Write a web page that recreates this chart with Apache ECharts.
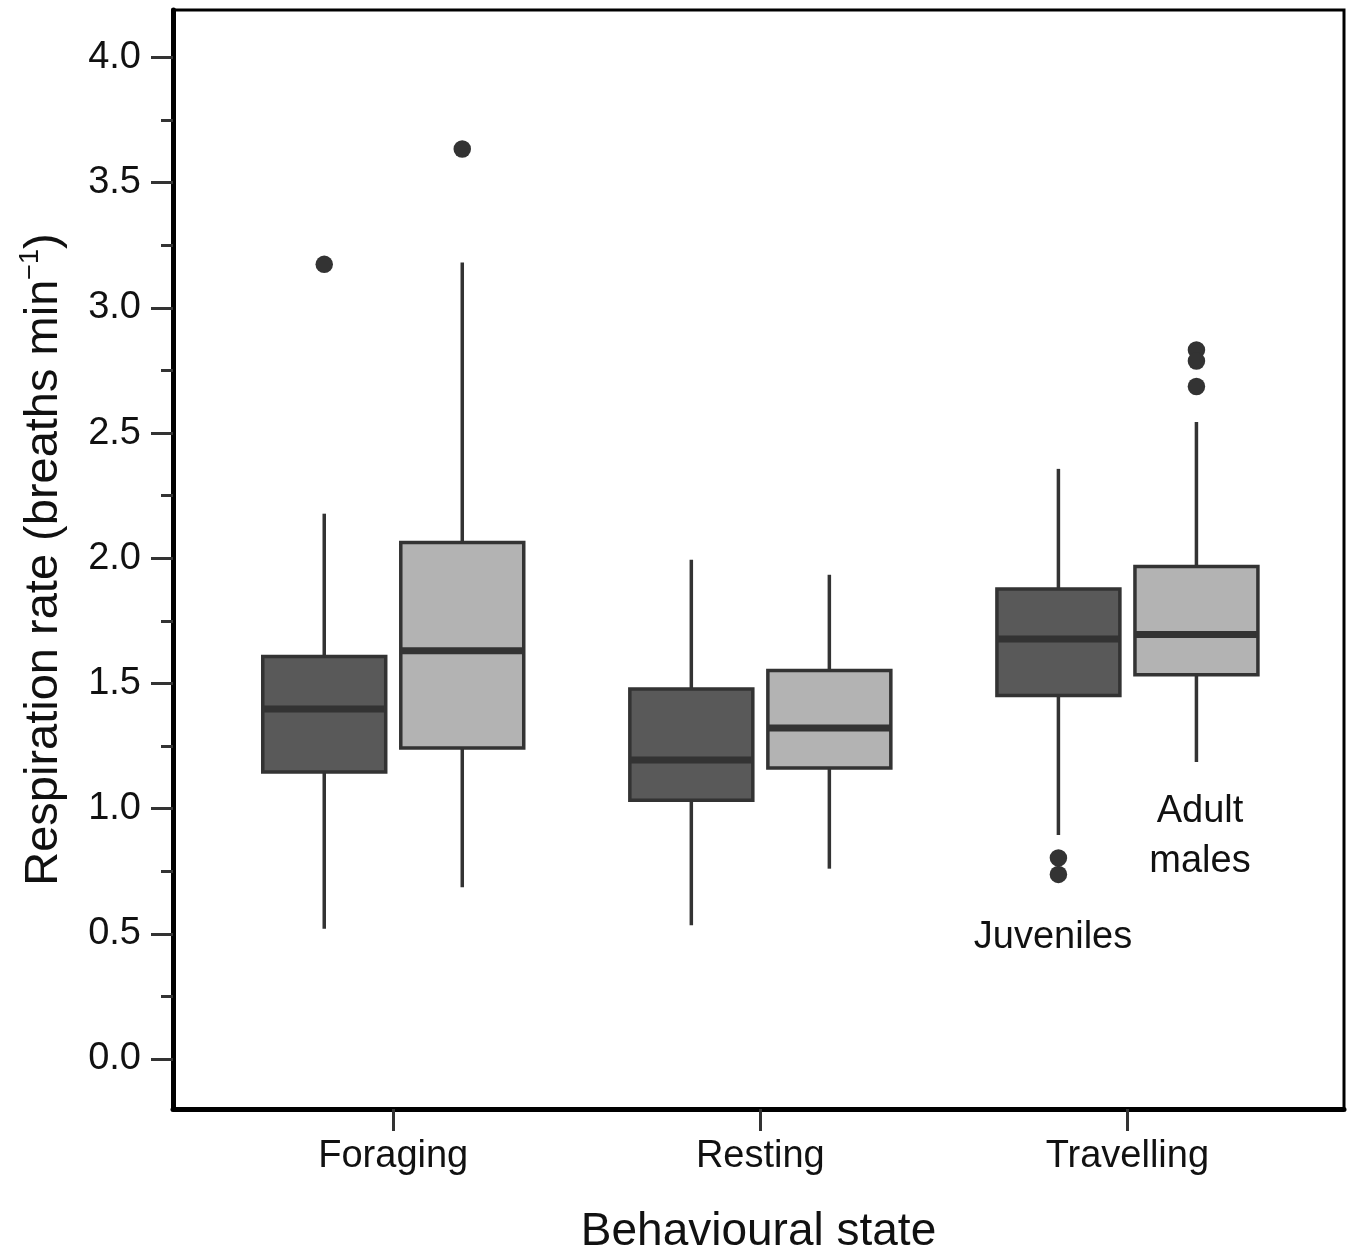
<!DOCTYPE html>
<html>
<head>
<meta charset="utf-8">
<script src="https://cdn.jsdelivr.net/npm/echarts@6/dist/echarts.min.js"></script>
<style>
html,body{margin:0;padding:0;background:#fff;}
#chart{width:1351px;height:1252px;}
</style>
</head>
<body>
<div id="chart"></div>
<script>
// ---------- data ----------
const categories = ['Foraging', 'Resting', 'Travelling'];
// [lower whisker, Q1, median, Q3, upper whisker]
const juvenileStats = [
  [0.52, 1.146, 1.398, 1.608, 2.178],
  [0.534, 1.033, 1.194, 1.478, 1.994],
  [0.895, 1.452, 1.677, 1.877, 2.357]
];
const adultStats = [
  [0.686, 1.242, 1.630, 2.063, 3.181],
  [0.760, 1.162, 1.322, 1.552, 1.934],
  [1.186, 1.535, 1.695, 1.967, 2.544]
];
const juvenileOutliers = [[3.174], [], [0.803, 0.737]];
const adultOutliers = [[3.635], [], [2.832, 2.788, 2.686]];
const yMajorTicks = [0, 0.5, 1.0, 1.5, 2.0, 2.5, 3.0, 3.5, 4.0];
const yMinorTicks = [0.25, 0.75, 1.25, 1.75, 2.25, 2.75, 3.25, 3.75];
const xTicks = [1, 2, 3];

// ---------- style ----------
const FONT = '"Liberation Sans", Arial, Helvetica, sans-serif';
const INK = '#333333';
const TEXT = '#111111';
const OFFSET = 0.188;
const BOX_HALF = 0.1675;

const chart = echarts.init(document.getElementById('chart'), null, {renderer: 'canvas'});

function boxData(stats) {
  return stats.map((s, i) => [i + 1].concat(s));
}
function outlierData(list, offset) {
  const out = [];
  list.forEach((vals, i) => vals.forEach(v => out.push([i + 1 + offset, v])));
  return out;
}
function makeRender(offset, fill) {
  return function (params, api) {
    const x = api.value(0) + offset;
    const lo = api.coord([x, api.value(1)]);
    const q1 = api.coord([x, api.value(2)]);
    const md = api.coord([x, api.value(3)]);
    const q3 = api.coord([x, api.value(4)]);
    const hi = api.coord([x, api.value(5)]);
    const half = api.size([BOX_HALF, 0])[0];
    const cx = q1[0];
    return {
      type: 'group',
      children: [
        {type: 'line', shape: {x1: cx, y1: hi[1], x2: cx, y2: q3[1]},
         style: {stroke: INK, lineWidth: 3.5}},
        {type: 'line', shape: {x1: cx, y1: q1[1], x2: cx, y2: lo[1]},
         style: {stroke: INK, lineWidth: 3.5}},
        {type: 'rect', shape: {x: cx - half, y: q3[1], width: 2 * half, height: q1[1] - q3[1]},
         style: {fill: fill, stroke: INK, lineWidth: 3.5}},
        {type: 'line', shape: {x1: cx - half, y1: md[1], x2: cx + half, y2: md[1]},
         style: {stroke: INK, lineWidth: 7}}
      ]
    };
  };
}

const option = {
  backgroundColor: '#ffffff',
  animation: false,
  grid: {
    left: 173, right: 7, top: 10, bottom: 143,
    show: true, borderColor: '#000', borderWidth: 3,
    outerBoundsMode: 'none'
  },
  xAxis: {
    type: 'value', min: 0.4, max: 3.59,
    axisLine: {show: true, onZero: false, lineStyle: {color: '#000', width: 5}},
    axisTick: {show: true, length: 22, customValues: xTicks, lineStyle: {color: INK, width: 3}},
    axisLabel: {customValues: xTicks, formatter: v => categories[Math.round(v) - 1],
      fontSize: 38, fontFamily: FONT, color: TEXT, margin: 29},
    splitLine: {show: false},
    name: 'Behavioural state', nameLocation: 'middle', nameGap: 100,
    nameTextStyle: {fontSize: 46, fontFamily: FONT, color: TEXT}
  },
  yAxis: [
    {
      type: 'value', min: -0.2, max: 4.19, position: 'left',
      axisLine: {show: true, lineStyle: {color: '#000', width: 5}},
      axisTick: {show: true, length: 22, customValues: yMajorTicks, lineStyle: {color: INK, width: 3}},
      axisLabel: {customValues: yMajorTicks, formatter: v => v.toFixed(1),
        fontSize: 38, fontFamily: FONT, color: TEXT, margin: 32},
      splitLine: {show: false},
      name: '{t|Respiration rate (breaths min}{s|−1}{t|)}',
      nameLocation: 'middle', nameGap: 102, nameRotate: 90,
      nameTextStyle: {
        rich: {
          t: {fontSize: 47, fontFamily: FONT, color: TEXT, lineHeight: 54},
          s: {fontSize: 27, fontFamily: FONT, color: TEXT, verticalAlign: 'top', lineHeight: 54}
        }
      }
    },
    {
      type: 'value', min: -0.2, max: 4.19, position: 'left',
      axisLine: {show: false},
      axisTick: {show: true, length: 12, customValues: yMinorTicks, lineStyle: {color: INK, width: 3}},
      axisLabel: {show: false},
      splitLine: {show: false}
    }
  ],
  series: [
    {
      name: 'Juveniles', type: 'custom', xAxisIndex: 0, yAxisIndex: 0,
      renderItem: makeRender(-OFFSET, '#595959'),
      encode: {x: 0, y: [1, 2, 3, 4, 5]},
      data: boxData(juvenileStats), z: 2
    },
    {
      name: 'Adult males', type: 'custom', xAxisIndex: 0, yAxisIndex: 0,
      renderItem: makeRender(OFFSET, '#b3b3b3'),
      encode: {x: 0, y: [1, 2, 3, 4, 5]},
      data: boxData(adultStats), z: 2
    },
    {
      type: 'scatter', symbol: 'circle', symbolSize: 17.5,
      itemStyle: {color: INK, opacity: 1},
      data: outlierData(juvenileOutliers, -OFFSET), z: 3
    },
    {
      type: 'scatter', symbol: 'circle', symbolSize: 17.5,
      itemStyle: {color: INK, opacity: 1},
      data: outlierData(adultOutliers, OFFSET), z: 3
    }
  ],
  graphic: [
    {type: 'text', x: 1200, y: 837, z: 10,
     style: {text: 'Adult\nmales', fontSize: 38, fontFamily: FONT, fill: TEXT,
       align: 'center', verticalAlign: 'middle', lineHeight: 50}},
    {type: 'text', x: 1053, y: 938, z: 10,
     style: {text: 'Juveniles', fontSize: 38, fontFamily: FONT, fill: TEXT,
       align: 'center', verticalAlign: 'middle'}}
  ]
};
chart.setOption(option);
</script>
</body>
</html>
